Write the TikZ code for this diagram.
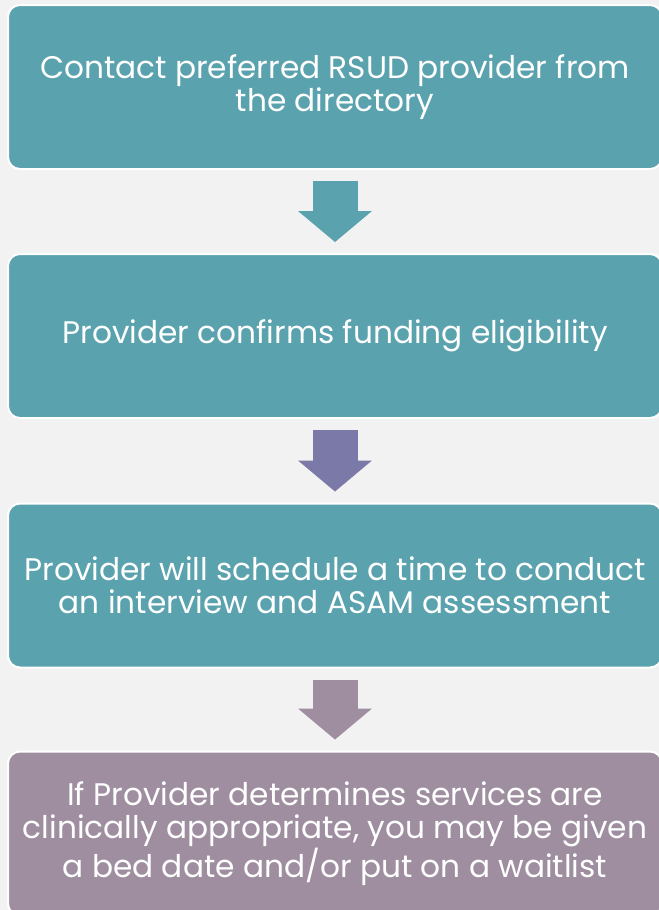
\documentclass[tikz,border=0pt]{standalone}
\usepackage{fontspec}
\setmainfont{Poppins}
\usepackage{tikz}
\usetikzlibrary{
    arrows.meta,
    positioning
}
\definecolor{pagebg}{HTML}{F2F2F2}
\definecolor{tealbox}{HTML}{5AA2AE}
\definecolor{violetarrow}{HTML}{7B79A8}
\definecolor{mauvebox}{HTML}{9E8EA0}
\tikzstyle{box} = [
    rectangle, draw,
    rounded corners=9pt,
    minimum width=490.5pt,
    minimum height=123pt,
    text centered,
    align=center,
    draw=white,
    line width=1.5pt,
    text=white,
    font=\fontsize{23.4}{24.75}\selectfont
]
\tikzstyle{flowarrow} = [
    line width=33.75pt,
    -{Triangle[width=55.5pt,length=23.25pt,line width=0pt]}
]

\begin{document}
\begin{tikzpicture}[x=0.75pt, y=-0.75pt]
    \useasboundingbox (0,0) rectangle (659,910);
    \clip (0,0) rectangle (659,910);
    \fill[pagebg] (0,0) rectangle (659,910);

    \node[box, fill=tealbox] (contact) at (335,87)
        {Contact preferred RSUD provider from\\the directory};
    \node[box, fill=tealbox] (funding) at (335,336)
        {Provider confirms funding eligibility};
    \node[box, fill=tealbox] (schedule) at (335,585.5)
        {Provider will schedule a time to conduct\\an interview and ASAM assessment};
    \node[box, fill=mauvebox] (bed) at (335,833.5)
        {If Provider determines services are\\clinically appropriate, you may be given\\a bed date and/or put on a waitlist};

    \draw[flowarrow, tealbox] ([yshift=-8.25pt]contact.south) -- ([yshift=8.25pt]funding.north);
    \draw[flowarrow, violetarrow] ([yshift=-8.25pt]funding.south) -- ([yshift=8.25pt]schedule.north);
    \draw[flowarrow, mauvebox] ([yshift=-8.25pt]schedule.south) -- ([yshift=8.25pt]bed.north);
\end{tikzpicture}
\end{document}
